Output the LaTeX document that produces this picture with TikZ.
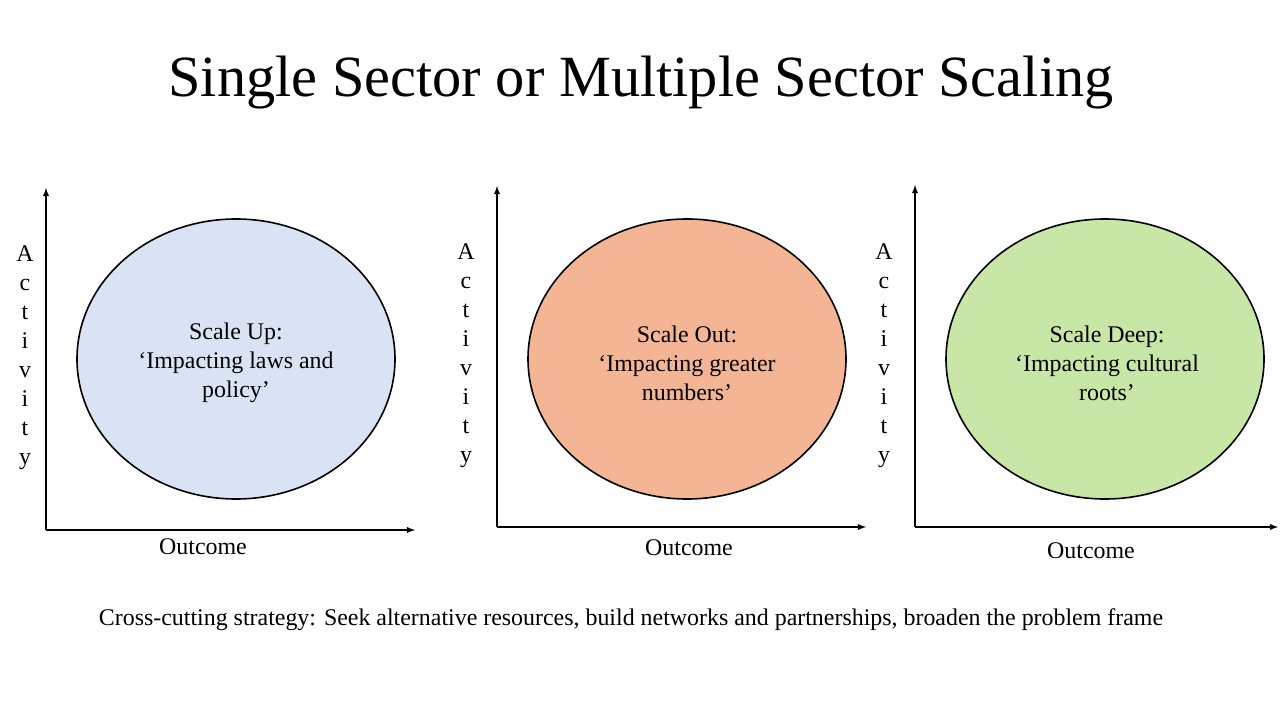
\documentclass[tikz,border=0pt]{standalone}
\usepackage{fontspec}
\setmainfont{Liberation Serif}
\usetikzlibrary{arrows.meta}
\tikzset{>=latex}
\definecolor{upblue}{RGB}{218,227,243}
\definecolor{outorange}{RGB}{244,181,149}
\definecolor{deepgreen}{RGB}{200,230,166}
\tikzstyle{axis}=[draw=black,line width=0.35mm,->]
\tikzstyle{blob}=[draw=black,line width=0.4mm]
\tikzstyle{body}=[font=\fontsize{17}{20.6}\selectfont,align=center]
\tikzstyle{vert}=[font=\fontsize{17}{20.6}\selectfont,align=center]

\begin{document}
\begin{tikzpicture}[x=0.025cm,y=-0.025cm]
    \useasboundingbox (0,0) rectangle (1280,720);
    \node[font=\fontsize{41.5}{44}\selectfont] (title) at (641,83) {Single Sector or Multiple Sector Scaling};

    % scale up
    \coordinate (o1) at (46,530);
    \coordinate (y1) at (46,188);
    \coordinate (x1) at (415,530);
    \draw[axis] (o1) -- (y1);
    \draw[axis] (o1) -- (x1);
    \fill[upblue,blob] (236,359) ellipse (159 and 140);
    \node[body] (up) at (236,363) {Scale Up:\\ `Impacting laws and\\ policy'};
    \node[vert] (act1) at (25,358) {A\\c\\t\\i\\v\\i\\t\\y};
    \node[body] (out1) at (203,547) {Outcome};

    % scale out
    \coordinate (o2) at (497,527);
    \coordinate (y2) at (497,186);
    \coordinate (x2) at (866,527);
    \draw[axis] (o2) -- (y2);
    \draw[axis] (o2) -- (x2);
    \fill[outorange,blob] (687,359) ellipse (159 and 140);
    \node[body] (out) at (687,363) {Scale Out:\\ `Impacting greater\\ numbers'};
    \node[vert] (act2) at (466,356) {A\\c\\t\\i\\v\\i\\t\\y};
    \node[body] (out2) at (689,548) {Outcome};

    % scale deep
    \coordinate (o3) at (915,527);
    \coordinate (y3) at (915,185);
    \coordinate (x3) at (1278,527);
    \draw[axis] (o3) -- (y3);
    \draw[axis] (o3) -- (x3);
    \fill[deepgreen,blob] (1105,359) ellipse (159 and 140);
    \node[body] (deep) at (1107,363) {Scale Deep:\\ `Impacting cultural\\ roots'};
    \node[vert] (act3) at (884,356) {A\\c\\t\\i\\v\\i\\t\\y};
    \node[body] (out3) at (1091,551) {Outcome};

    \node[body] (cross) at (631,620) {Cross-cutting strategy: Seek alternative resources, build networks and partnerships, broaden the problem frame};
\end{tikzpicture}
\end{document}
